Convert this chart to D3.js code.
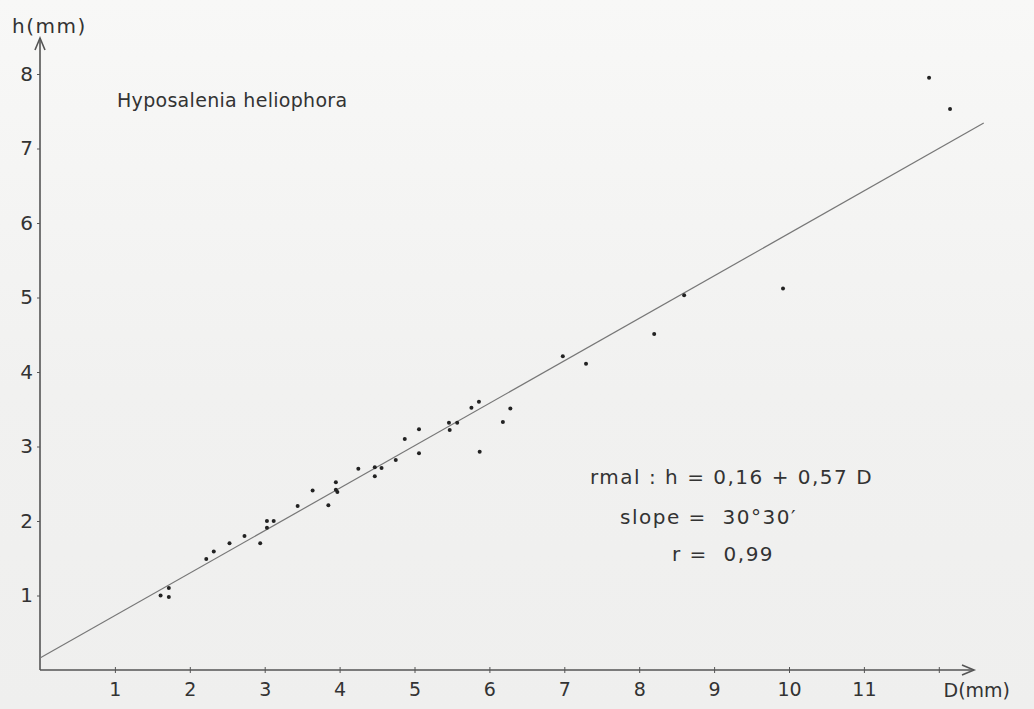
<!DOCTYPE html>
<html>
<head>
<meta charset="utf-8">
<script src="https://cdn.jsdelivr.net/npm/d3@7"></script>
<style>
  body { margin: 0; background: #f2f2f0; }
  text { font-family: "DejaVu Sans", sans-serif; fill: #333; white-space: pre; }
</style>
</head>
<body>
<div id="chart"></div>
<script>
// measured points: D (mm) diameter, h (mm) height
const diam = [1.61, 1.72, 1.72, 2.22, 2.32, 2.53, 2.73, 2.94, 3.03, 3.03, 3.12,
  3.44, 3.64, 3.85, 3.95, 3.95, 3.97, 4.25, 4.47, 4.47, 4.56, 4.75, 4.87, 5.06, 5.06,
  5.46, 5.47, 5.57, 5.76, 5.86, 5.87, 6.18, 6.28,
  6.98, 7.29, 8.20, 8.60, 9.92, 11.87, 12.15];
const height = [1.00, 1.10, 0.98, 1.49, 1.59, 1.70, 1.80, 1.70, 1.91, 2.00, 2.00,
  2.20, 2.41, 2.21, 2.52, 2.42, 2.39, 2.70, 2.72, 2.60, 2.71, 2.82, 3.10, 3.23, 2.91,
  3.32, 3.22, 3.32, 3.52, 3.60, 2.93, 3.33, 3.51,
  4.21, 4.11, 4.51, 5.03, 5.12, 7.95, 7.53];
const xTicks = [1, 2, 3, 4, 5, 6, 7, 8, 9, 10, 11, 12];
const yTicks = [1, 2, 3, 4, 5, 6, 7, 8];
const fitA = 0.16, fitB = 0.57, fitEnd = 12.6;
const notes = ["rmal : h = 0,16 + 0,57 D", "slope =  30°30′", "r =  0,99"];

const chart = {
  width: 1034,
  height: 709,
  margin: { left: 40, top: 40, right: 58, bottom: 39 },

  render(id) {
    const svg = d3.select(`#${id}`).append("svg")
      .attr("width", this.width)
      .attr("height", this.height);
    const grad = svg.append("defs").append("linearGradient")
      .attr("id", "paper").attr("x1", 0).attr("x2", 0).attr("y1", 0).attr("y2", 1);
    grad.append("stop").attr("offset", "0%").attr("stop-color", "#f8f8f7");
    grad.append("stop").attr("offset", "55%").attr("stop-color", "#f1f1f0");
    grad.append("stop").attr("offset", "100%").attr("stop-color", "#efefee");
    svg.append("rect").attr("width", this.width).attr("height", this.height).attr("fill", "url(#paper)");
    const innerW = this.width - this.margin.left - this.margin.right;
    const innerH = this.height - this.margin.top - this.margin.bottom;
    const g = svg.append("g")
      .attr("transform", `translate(${this.margin.left},${this.margin.top})`);
    return { svg, g, innerW, innerH };
  },
};

function draw() {
  const { svg, g, innerW, innerH } = chart.render("chart");

  const x = d3.scaleLinear().domain([0, innerW / 74.9]).range([0, innerW]);
  const y = d3.scaleLinear().domain([0, innerH / 74.5]).range([innerH, 0]);

  const axisColor = "#555";

  // x axis
  const gx = g.append("g")
    .attr("transform", `translate(0,${innerH})`)
    .call(d3.axisBottom(x).tickValues(xTicks).tickSize(3).tickPadding(10)
      .tickFormat(d => d === 12 ? "" : d));
  gx.select(".domain").remove();
  gx.selectAll(".tick line").attr("y1", -3).attr("y2", 3).attr("stroke", axisColor);
  gx.selectAll(".tick text").style("font-size", "19px").attr("fill", "#333");

  // y axis
  const gy = g.append("g")
    .call(d3.axisLeft(y).tickValues(yTicks).tickSize(3).tickPadding(4));
  gy.select(".domain").remove();
  gy.selectAll(".tick line").attr("stroke", axisColor);
  gy.selectAll(".tick text").style("font-size", "20px").attr("fill", "#333");

  // axis lines with arrows
  g.append("line").attr("x1", 0).attr("x2", 0).attr("y1", innerH).attr("y2", -2)
    .attr("stroke", axisColor).attr("stroke-width", 1.6);
  g.append("path").attr("d", `M-5,10 L0,-2 L5,10`).attr("fill", "none")
    .attr("stroke", axisColor).attr("stroke-width", 1.6);
  g.append("line").attr("x1", 0).attr("x2", innerW - 2).attr("y1", innerH).attr("y2", innerH)
    .attr("stroke", axisColor).attr("stroke-width", 1.6);
  g.append("path").attr("d", `M${innerW - 14},${innerH - 5} L${innerW - 2},${innerH} L${innerW - 14},${innerH + 5}`)
    .attr("fill", "none").attr("stroke", axisColor).attr("stroke-width", 1.6);

  // axis titles
  svg.append("text").attr("x", 12).attr("y", 33).text("h(mm)")
    .style("font-size", "20px").style("letter-spacing", "1.5px");
  svg.append("text").attr("x", 1010).attr("y", 697).attr("text-anchor", "end")
    .text("D(mm)").style("font-size", "19px");

  // regression line
  g.append("line")
    .attr("x1", x(0)).attr("y1", y(fitA))
    .attr("x2", x(fitEnd)).attr("y2", y(fitA + fitB * fitEnd))
    .attr("stroke", "#777").attr("stroke-width", 1.2);

  // points
  g.selectAll("circle")
    .data(diam.map((d, i) => [d, height[i]]))
    .join("circle")
    .attr("cx", d => x(d[0]))
    .attr("cy", d => y(d[1]))
    .attr("r", 2)
    .attr("fill", "#222");

  // species label
  svg.append("text").attr("x", 117).attr("y", 107).text("Hyposalenia heliophora")
    .style("font-size", "19px").style("letter-spacing", "0.3px");

  // regression notes
  const noteX = [590, 620, 672];
  const noteY = [484, 524, 561];
  svg.selectAll("text.note")
    .data(notes)
    .join("text")
    .attr("class", "note")
    .attr("x", (d, i) => noteX[i])
    .attr("y", (d, i) => noteY[i])
    .text(d => d)
    .style("font-size", "20px")
    .style("letter-spacing", "1.5px");
}
draw();
</script>
</body>
</html>
